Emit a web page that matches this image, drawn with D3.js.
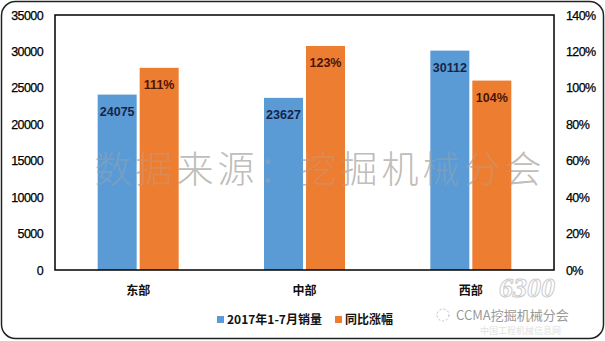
<!DOCTYPE html>
<html>
<head>
<meta charset="utf-8">
<script src="https://cdn.jsdelivr.net/npm/d3@7"></script>
<style>
  html, body { margin: 0; padding: 0; background: #fff; }
  svg { display: block; font-family: "Liberation Sans", Arial, "Noto Sans CJK SC", sans-serif; }
</style>
</head>
<body>
<svg id="chart" width="605" height="341"></svg>
<script>
// Regional excavator sales, Jan–Jul 2017, and year-on-year growth
const regions = ["东部", "中部", "西部"];
const sales = [24075, 23627, 30112];
const growth = [1.11, 1.23, 1.04];          // fraction (111%, 123%, 104%)
const leftTicks = [0, 5000, 10000, 15000, 20000, 25000, 30000, 35000];
const rightTicks = [0, 0.2, 0.4, 0.6, 0.8, 1.0, 1.2, 1.4];
const seriesNames = ["2017年1-7月销量", "同比涨幅"];
const seriesColors = ["#5B9BD5", "#ED7D31"];

const svg = d3.select("#chart");
const W = 605, H = 341;
const plot = { left: 55, right: 554, top: 15, bottom: 270 };

// outer rounded frame
svg.append("rect")
  .attr("x", 1.5).attr("y", 1.5).attr("width", W - 3).attr("height", H - 4)
  .attr("rx", 14).attr("ry", 14)
  .attr("fill", "#fff").attr("stroke", "#222").attr("stroke-width", 1.5);

const x = d3.scaleBand().domain(regions).range([plot.left, plot.right]);
const yL = d3.scaleLinear().domain([0, 35000]).range([plot.bottom, plot.top]);
const yR = d3.scaleLinear().domain([0, 1.4]).range([plot.bottom, plot.top]);

const barW = 39, gap = 3;

function watermark(fill, opacity) {
  svg.append("text")
    .attr("x", 320).attr("y", 183)
    .attr("text-anchor", "middle")
    .attr("font-family", "'Noto Sans CJK SC', sans-serif")
    .attr("font-weight", 300)
    .attr("font-size", 37)
    .attr("letter-spacing", 4)
    .attr("fill", fill).attr("fill-opacity", opacity)
    .text("数据来源：挖掘机械分会");
}

// watermark text behind the bars
watermark("#9a9a9a", 0.55);

// blue bars (sales)
svg.append("g").selectAll("rect").data(regions).join("rect")
  .attr("x", d => x(d) + x.bandwidth() / 2 - gap / 2 - barW)
  .attr("y", (d, i) => yL(sales[i]))
  .attr("width", barW)
  .attr("height", (d, i) => yL(0) - yL(sales[i]))
  .attr("fill", seriesColors[0]);

// orange bars (growth)
svg.append("g").selectAll("rect").data(regions).join("rect")
  .attr("x", d => x(d) + x.bandwidth() / 2 + gap / 2)
  .attr("y", (d, i) => yR(growth[i]))
  .attr("width", barW)
  .attr("height", (d, i) => yR(0) - yR(growth[i]))
  .attr("fill", seriesColors[1]);

// faint pass of the watermark over the bars
watermark("#b0a8a0", 0.35);

// value labels
svg.append("g").selectAll("text").data(regions).join("text")
  .attr("x", d => x(d) + x.bandwidth() / 2 - gap / 2 - barW / 2)
  .attr("y", (d, i) => yL(sales[i]) + 21)
  .attr("text-anchor", "middle")
  .attr("font-size", 12.5).attr("font-weight", "bold")
  .attr("fill", "#17244a")
  .text((d, i) => sales[i]);

svg.append("g").selectAll("text").data(regions).join("text")
  .attr("x", d => x(d) + x.bandwidth() / 2 + gap / 2 + barW / 2)
  .attr("y", (d, i) => yR(growth[i]) + 21)
  .attr("text-anchor", "middle")
  .attr("font-size", 12.5).attr("font-weight", "bold")
  .attr("fill", "#4a1505")
  .text((d, i) => Math.round(growth[i] * 100) + "%");

// plot frame
svg.append("rect")
  .attr("x", plot.left).attr("y", plot.top)
  .attr("width", plot.right - plot.left).attr("height", plot.bottom - plot.top)
  .attr("fill", "none").attr("stroke", "#000").attr("stroke-width", 1.5);

// publisher mark, bottom right (drawn under the axis labels)
svg.append("text")
  .attr("x", 527).attr("y", 297)
  .attr("text-anchor", "middle")
  .attr("font-family", "'Liberation Serif', serif")
  .attr("font-style", "italic").attr("font-weight", "bold")
  .attr("font-size", 28)
  .attr("fill", "#fff").attr("stroke", "#c4c4c4").attr("stroke-width", 1)
  .attr("opacity", 0.85)
  .text("6300");

// left axis
const axL = svg.append("g").attr("transform", `translate(${plot.left},0)`)
  .call(d3.axisLeft(yL).tickValues(leftTicks).tickSize(0).tickPadding(12).tickFormat(d3.format("d")));
axL.select(".domain").remove();
axL.selectAll("text").attr("font-size", 12.5).attr("fill", "#000")
  .attr("font-family", "'Liberation Sans', Arial, sans-serif").attr("letter-spacing", -0.6)
  .attr("stroke", "#000").attr("stroke-width", 0.25);

// right axis
const axR = svg.append("g").attr("transform", `translate(${plot.right},0)`)
  .call(d3.axisRight(yR).tickValues(rightTicks).tickSize(0).tickPadding(12).tickFormat(d => Math.round(d * 100) + "%"));
axR.select(".domain").remove();
axR.selectAll("text").attr("font-size", 12.5).attr("fill", "#000")
  .attr("font-family", "'Liberation Sans', Arial, sans-serif").attr("letter-spacing", -0.6)
  .attr("stroke", "#000").attr("stroke-width", 0.25);

// category labels
svg.append("g").selectAll("text").data(regions).join("text")
  .attr("x", d => x(d) + x.bandwidth() / 2)
  .attr("y", 295)
  .attr("text-anchor", "middle")
  .attr("font-family", "'Noto Sans CJK SC', sans-serif")
  .attr("font-size", 12).attr("font-weight", "bold").attr("fill", "#111")
  .text(d => d);

// legend
const legend = svg.append("g");
const legendX = [217, 335];
seriesNames.forEach((name, i) => {
  const g = legend.append("g").attr("transform", `translate(${legendX[i]},324)`);
  g.append("rect").attr("x", 0).attr("y", -8).attr("width", 7).attr("height", 7).attr("fill", seriesColors[i]);
  g.append("text").attr("x", 10).attr("y", 0)
    .attr("font-family", "'Noto Sans CJK SC', sans-serif")
    .attr("font-size", 12).attr("font-weight", "bold").attr("fill", "#111")
    .text(name);
});

// publisher caption
svg.append("text")
  .attr("x", 456).attr("y", 320)
  .attr("font-family", "'Noto Sans CJK SC', sans-serif")
  .attr("font-size", 13).attr("fill", "#9a9a9a")
  .text("CCMA挖掘机械分会");
svg.append("text")
  .attr("x", 480).attr("y", 334)
  .attr("font-family", "'Noto Sans CJK SC', sans-serif")
  .attr("font-size", 9).attr("fill", "#e2e2e2")
  .text("中国工程机械信息网");
svg.append("circle").attr("cx", 443).attr("cy", 315).attr("r", 6)
  .attr("fill", "none").attr("stroke", "#bbb").attr("stroke-dasharray", "2,2");
</script>
</body>
</html>
